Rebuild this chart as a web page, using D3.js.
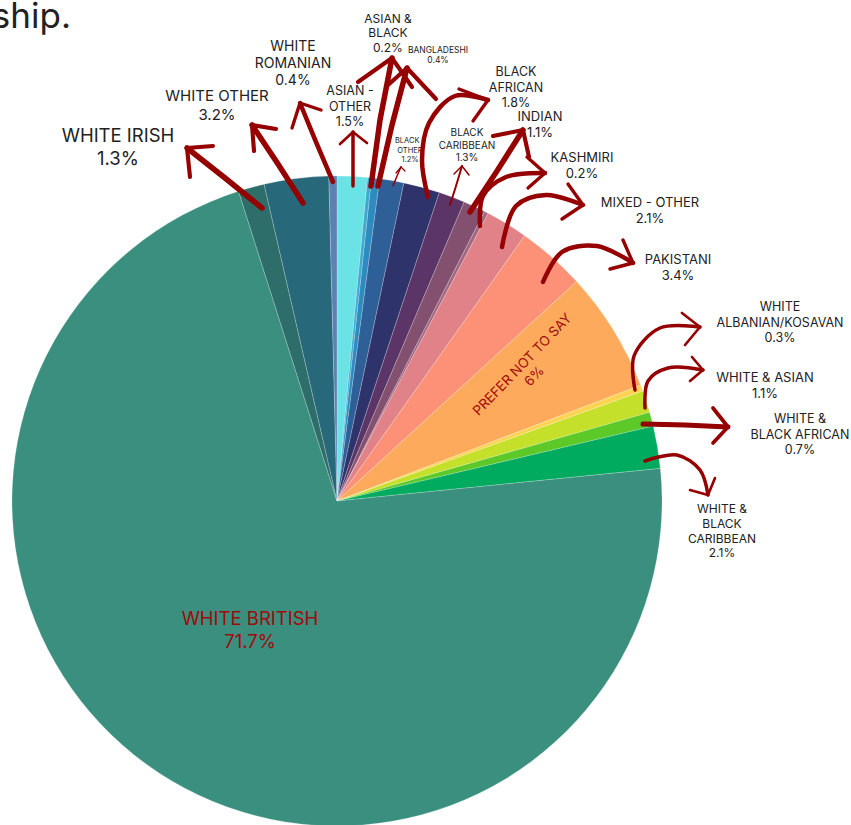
<!DOCTYPE html>
<html>
<head>
<meta charset="utf-8">
<script src="https://cdn.jsdelivr.net/npm/d3@7"></script>
<style>
  html, body { margin: 0; padding: 0; background: #fff; }
  svg { display: block; }
  text { font-family: "Inter", "Noto Sans", sans-serif; }
</style>
</head>
<body>
<svg id="chart" width="851" height="825"></svg>
<script>
// ---- data ----
const categories = [
  "ASIAN - OTHER", "ASIAN & BLACK", "BANGLADESHI", "BLACK - OTHER", "BLACK AFRICAN",
  "BLACK CARIBBEAN", "INDIAN", "KASHMIRI", "MIXED - OTHER", "PAKISTANI",
  "PREFER NOT TO SAY", "WHITE ALBANIAN/KOSAVAN", "WHITE & ASIAN", "WHITE & BLACK AFRICAN",
  "WHITE & BLACK CARIBBEAN", "WHITE BRITISH", "WHITE IRISH", "WHITE OTHER", "WHITE ROMANIAN"
];
const values = [1.5, 0.2, 0.4, 1.2, 1.8, 1.3, 1.1, 0.2, 2.1, 3.4, 6, 0.3, 1.1, 0.7, 2.1, 71.7, 1.3, 3.2, 0.4];
const valueLabels = ["1.5%", "0.2%", "0.4%", "1.2%", "1.8%", "1.3%", "1.1%", "0.2%", "2.1%", "3.4%", "6%", "0.3%", "1.1%", "0.7%", "2.1%", "71.7%", "1.3%", "3.2%", "0.4%"];
const colors = [
  "#6be3e6", "#3fa9d0", "#2d8bbf", "#2e5f97", "#2f336b",
  "#5b3567", "#835070", "#a26781", "#e08287", "#fd9177",
  "#feaa5d", "#fdd452", "#c5e02b", "#5cc928", "#00ab5f",
  "#3a8f7e", "#2e6e6a", "#27697a", "#5b82b3"
];

// ---- layout (annotation placement, not data) ----
const cx = 337, cy = 501, R = 325;
const ink = "#222";
const red = "#950000";
const LH = 1.23; // line height factor

// label blocks: lines, centre x, vertical centre of block, font size
const labelLayout = {
  "WHITE IRISH":            {lines: ["WHITE IRISH"], x: 118, yc: 147, fs: 18.5},
  "WHITE OTHER":            {lines: ["WHITE OTHER"], x: 217, yc: 105, fs: 15},
  "WHITE ROMANIAN":         {lines: ["WHITE", "ROMANIAN"], x: 293, yc: 63, fs: 14},
  "ASIAN - OTHER":          {lines: ["ASIAN -", "OTHER"], x: 350, yc: 106, fs: 12.5},
  "ASIAN & BLACK":          {lines: ["ASIAN &", "BLACK"], x: 388, yc: 33, fs: 12},
  "BANGLADESHI":            {lines: ["BANGLADESHI"], x: 438, yc: 55, fs: 8.5},
  "BLACK - OTHER":          {lines: ["BLACK -", "OTHER"], x: 410, yc: 150, fs: 7.5},
  "BLACK CARIBBEAN":        {lines: ["BLACK", "CARIBBEAN"], x: 467, yc: 145, fs: 10},
  "BLACK AFRICAN":          {lines: ["BLACK", "AFRICAN"], x: 516, yc: 87, fs: 12.5},
  "INDIAN":                 {lines: ["INDIAN"], x: 540, yc: 124, fs: 13},
  "KASHMIRI":               {lines: ["KASHMIRI"], x: 582, yc: 165, fs: 13},
  "MIXED - OTHER":          {lines: ["MIXED - OTHER"], x: 650, yc: 210, fs: 13},
  "PAKISTANI":              {lines: ["PAKISTANI"], x: 678, yc: 267, fs: 13},
  "WHITE ALBANIAN/KOSAVAN": {lines: ["WHITE", "ALBANIAN/KOSAVAN"], x: 780, yc: 322, fs: 12.5},
  "WHITE & ASIAN":          {lines: ["WHITE & ASIAN"], x: 765, yc: 385, fs: 13},
  "WHITE & BLACK AFRICAN":  {lines: ["WHITE &", "BLACK AFRICAN"], x: 800, yc: 434, fs: 12.5},
  "WHITE & BLACK CARIBBEAN":{lines: ["WHITE &", "BLACK", "CARIBBEAN"], x: 722, yc: 531, fs: 12}
};

// arrows: shaft points (last = tip), two wing ends, stroke width
const arrowLayout = [
  {shaft: [[262,208],[225,178],[187,148]], wings: [[213,146],[190,177]], w: 5.5},
  {shaft: [[303,203],[278,164],[252,125]], wings: [[276,129],[254,151]], w: 5.5},
  {shaft: [[333,182],[316,142],[300,103]], wings: [[321,110],[292,128]], w: 4.5},
  {shaft: [[353,186],[353,160],[353,132]], wings: [[340,144],[367,143]], w: 3.5},
  {shaft: [[371,186],[380,120],[392,58]], wings: [[358,82],[412,87]], w: 5.5},
  {shaft: [[378,186],[392,125],[407,68]], wings: [[388,85],[436,99]], w: 5.5},
  {shaft: [[393,186],[397,176],[401,167]], wings: [[396,173],[405,171]], w: 1.5},
  {shaft: [[450,205],[456,186],[462,166]], wings: [[454,174],[469,175]], w: 2},
  {shaft: [[428,197],[422,160],[429,123],[455,96],[488,100]], wings: [[459,89],[473,121]], w: 4.5, curve: true},
  {shaft: [[470,212],[497,171],[523,130]], wings: [[493,136],[529,157]], w: 5.5},
  {shaft: [[480,226],[483,196],[506,177],[545,173]], wings: [[527,157],[528,188]], w: 4.5, curve: true},
  {shaft: [[502,247],[516,206],[546,195],[583,205]], wings: [[568,184],[562,219]], w: 4.5, curve: true},
  {shaft: [[543,282],[562,252],[597,246],[633,263]], wings: [[623,240],[610,269]], w: 4.5, curve: true},
  {shaft: [[635,390],[634,356],[660,328],[700,327]], wings: [[682,313],[685,345]], w: 3.5, curve: true},
  {shaft: [[645,408],[648,381],[668,368],[703,370]], wings: [[692,357],[690,381]], w: 3.5, curve: true},
  {shaft: [[643,424],[685,425],[728,427]], wings: [[713,408],[713,443]], w: 5},
  {shaft: [[645,461],[677,455],[700,470],[708,495]], wings: [[690,490],[715,478]], w: 3.5, curve: true}
];

// ---- draw ----
const svg = d3.select("#chart");

// title fragment (cut off at left edge, as in the reference)
svg.append("text")
  .attr("x", 71).attr("y", 28)
  .attr("text-anchor", "end")
  .attr("font-size", 35)
  .attr("fill", ink)
  .text("ship.");

const pie = d3.pie().sort(null).value(d => d);
const arcs = pie(values);
const arcGen = d3.arc().innerRadius(0).outerRadius(R);

const g = svg.append("g").attr("transform", `translate(${cx},${cy})`);
g.selectAll("path.slice")
  .data(arcs)
  .join("path")
  .attr("class", "slice")
  .attr("d", arcGen)
  .attr("fill", (d, i) => colors[i])
  .attr("stroke", "rgba(255,255,255,0.35)")
  .attr("stroke-width", 0.6);

function block(parent, lines, x, yc, fs, fill, anchor) {
  const lh = fs * LH;
  const n = lines.length;
  const first = yc - (n - 1) * lh / 2 + fs * 0.36;
  lines.forEach((ln, k) => {
    parent.append("text")
      .attr("x", x).attr("y", first + k * lh)
      .attr("text-anchor", anchor || "middle")
      .attr("fill", fill)
      .attr("font-size", fs)
      .text(ln);
  });
}

// inner labels
const wb = categories.indexOf("WHITE BRITISH");
block(g, [categories[wb], valueLabels[wb]], 250 - cx, 630 - cy, 18.5, "#a10a0a");

const pn = categories.indexOf("PREFER NOT TO SAY");
const pnG = g.append("g").attr("transform", `translate(${528 - cx},${370 - cy}) rotate(-46)`);
block(pnG, [categories[pn], valueLabels[pn]], 0, 0, 13.5, "#a10a0a");

// outer labels
categories.forEach((c, i) => {
  const L = labelLayout[c];
  if (!L) return;
  block(svg, L.lines.concat([valueLabels[i]]), L.x, L.yc, L.fs, ink);
});

// arrows
const straight = d3.line().curve(d3.curveLinear);
const curved = d3.line().curve(d3.curveCatmullRom.alpha(0.5));
const ag = svg.append("g")
  .attr("fill", "none")
  .attr("stroke", red)
  .attr("stroke-linecap", "round")
  .attr("stroke-linejoin", "round");
arrowLayout.forEach(a => {
  ag.append("path")
    .attr("d", (a.curve ? curved : straight)(a.shaft))
    .attr("stroke-width", a.w);
  const tip = a.shaft[a.shaft.length - 1];
  a.wings.forEach(wp => {
    ag.append("path")
      .attr("d", straight([wp, tip]))
      .attr("stroke-width", Math.max(1.2, a.w * 0.75));
  });
});
</script>
</body>
</html>
